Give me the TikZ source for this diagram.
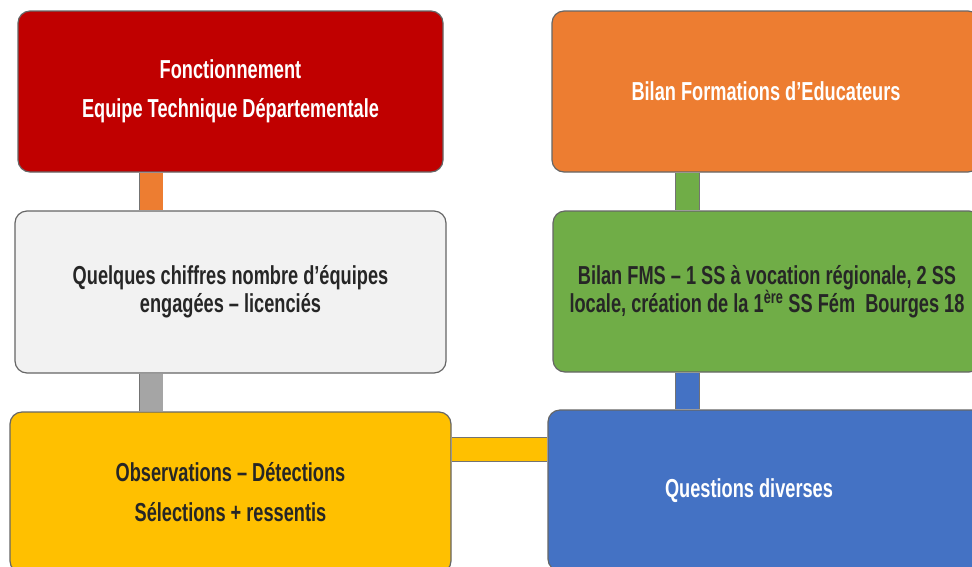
\documentclass[tikz,border=0pt]{standalone}
\usepackage{fontspec}
\setmainfont{Liberation Sans}[FakeStretch=0.70]
\usetikzlibrary{positioning,backgrounds}
\definecolor{rouge}{RGB}{192,0,0}
\definecolor{orange}{RGB}{237,125,49}
\definecolor{gris}{RGB}{242,242,242}
\definecolor{grisbar}{RGB}{165,165,165}
\definecolor{vert}{RGB}{112,173,71}
\definecolor{jaune}{RGB}{255,192,0}
\definecolor{bleu}{RGB}{68,114,196}

\begin{document}
\begin{tikzpicture}[x=1pt, y=-1pt,
		box/.style={rectangle, rounded corners=12pt, draw=black!60, line width=1.2pt, align=center, inner sep=0pt,
			font=\bfseries\fontsize{26}{28}\selectfont},
		bar/.style={draw=black!55, line width=0.8pt, double distance=23pt}
	]
	\useasboundingbox (0,0) rectangle (972,566);
	\clip (0,0) rectangle (972,566);
	% left column
	\node[box, fill=rouge, text=white, minimum width=425pt, minimum height=161pt] (fonct) at (230.5,91.5)
		{Fonctionnement\\[11pt]Equipe Technique Départementale};
	\node[box, fill=gris, text=black!85, minimum width=431pt, minimum height=162pt] (chiffres) at (230.5,292)
		{Quelques chiffres nombre d’équipes\\engagées – licenciés};
	\node[box, fill=jaune, text=black!85, minimum width=441pt, minimum height=161pt] (observ) at (230.5,492.5)
		{Observations – Détections\\[12pt]Sélections + ressentis};
	% right column
	\node[box, fill=orange, text=white, minimum width=428pt, minimum height=161pt] (formations) at (766,91.5)
		{Bilan Formations d’Educateurs};
	\node[box, fill=vert, text=black!85, minimum width=428pt, minimum height=161pt] (fms) at (767,291.5)
		{Bilan FMS – 1 SS à vocation régionale, 2 SS\\locale, création de la 1\textsuperscript{ère} SS Fém\ \ Bourges 18};
	\node[box, fill=bleu, text=white, minimum width=440pt, minimum height=161pt] (questions) at (768,490.5)
		{Questions diverses\hspace*{38pt}};
	% connecting bars
	\begin{scope}[on background layer]
	\draw[bar, double=orange] ([xshift=-79.5pt]fonct.south) -- ([xshift=-79.5pt]chiffres.north);
	\draw[bar, double=grisbar] ([xshift=-79.5pt]chiffres.south) -- ([xshift=-79.5pt]observ.north);
	\draw[bar, double=vert] ([xshift=-78.5pt]formations.south) -- ([xshift=-79.5pt]fms.north);
	\draw[bar, double=bleu] ([xshift=-79.5pt]fms.south) -- ([xshift=-80.5pt]questions.north);
	\draw[bar, double=jaune] ([yshift=43pt]observ.east) -- ([yshift=41pt]questions.west);
	\end{scope}
\end{tikzpicture}
\end{document}
